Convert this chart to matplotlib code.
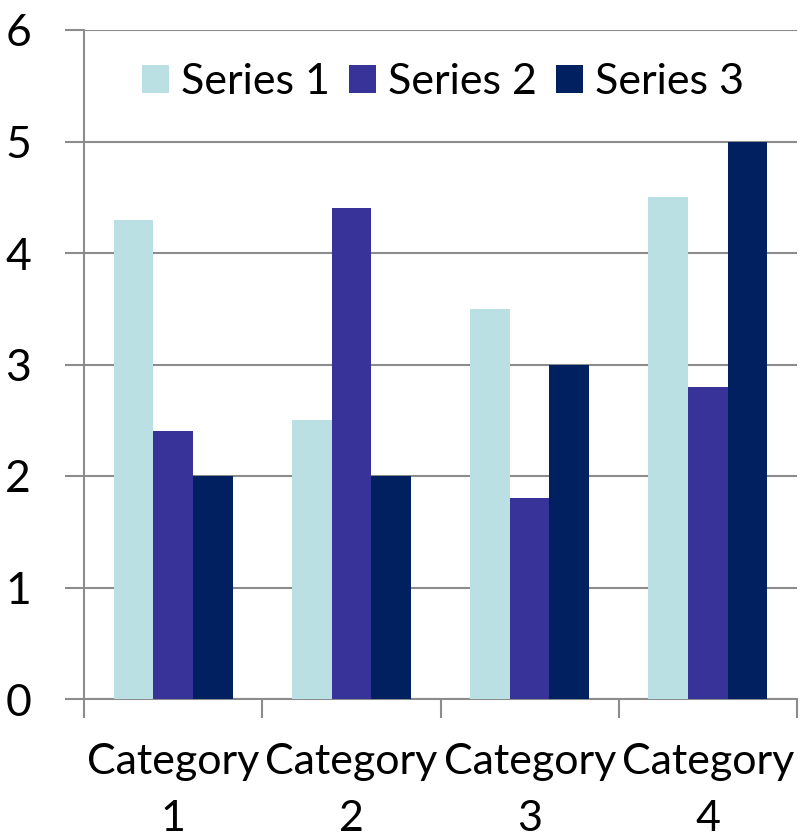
import matplotlib
matplotlib.use("Agg")
import matplotlib.pyplot as plt
import numpy as np

categories = ["Category\n1", "Category\n2", "Category\n3", "Category\n4"]
series_names = ["Series 1", "Series 2", "Series 3"]
series1 = [4.3, 2.5, 3.5, 4.5]
series2 = [2.4, 4.4, 1.8, 2.8]
series3 = [2.0, 2.0, 3.0, 5.0]
colors = ["#BBE0E3", "#373398", "#002060"]

plt.rcParams['font.family'] = ['Lato', 'DejaVu Sans']

fig = plt.figure(figsize=(8, 8.36), dpi=100)
ax = fig.add_axes([84/800, 1-699/836, (797-84)/800, (699-30)/836])

x = np.arange(len(categories))
w = 1/4.5
for i, (vals, name) in enumerate(zip([series1, series2, series3], series_names)):
    ax.bar(x + (i-1)*w, vals, width=w, color=colors[i], label=name, zorder=3)

ax.set_xlim(-0.5, len(categories)-0.5)
ax.set_ylim(0, 6)
ax.set_yticks(range(0, 7))
ax.yaxis.grid(True, color="#8C8C8C", linewidth=1.5, zorder=0)
for s in ["top", "right"]:
    ax.spines[s].set_visible(False)
for s in ["left", "bottom"]:
    ax.spines[s].set_color("#8C8C8C")
    ax.spines[s].set_linewidth(1.5)

ax.set_xticks(np.arange(-0.5, len(categories), 1.0))
ax.set_xticklabels([])
ax.set_xticks(x, minor=True)
ax.set_xticklabels(categories, minor=True, fontsize=31, linespacing=1.6)
ax.tick_params(axis='x', which='major', length=14, width=1.5, color="#8C8C8C", direction='out')
ax.tick_params(axis='x', which='minor', length=0, pad=32)
ax.tick_params(axis='y', length=14, width=1.5, color="#8C8C8C", labelsize=32, pad=24)

fs_leg = 31
em = fs_leg * 100 / 72
leg = ax.legend(loc='center', ncol=3, frameon=False,
                fontsize=fs_leg, handlelength=27/em, handleheight=27/em, handletextpad=12/em,
                columnspacing=19/em, borderaxespad=0)
leg.set_bbox_to_anchor((443/800, 1-82/836), transform=fig.transFigure)

fig.savefig("out.png", dpi=100)
